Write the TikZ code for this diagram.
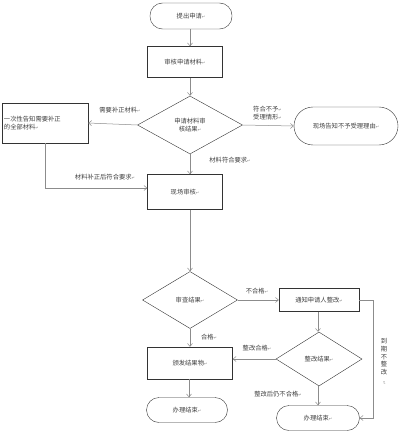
\documentclass[tikz,border=0pt]{standalone}
\usepackage{fontspec}
\setmainfont{Noto Sans CJK SC}
\newfontfamily\symfont{DejaVu Sans}
\usepackage{tikz}
\usetikzlibrary{shapes.geometric,arrows.meta}
\newcommand{\ret}{{\symfont\fontsize{4}{4}\selectfont\textcolor{gray}{↵}}}

\begin{document}
\begin{tikzpicture}[x=1pt,y=-1pt,
  every node/.style={font=\fontsize{6.3}{8.5}\selectfont,text=black!75},
  box/.style={draw=black!80,rectangle,minimum width=75pt,minimum height=31pt,inner sep=1pt},
  term/.style={draw=black!80,rectangle,rounded corners=12.5pt,minimum width=82pt,minimum height=26pt},
  dec/.style={draw=black!80,diamond,inner sep=0pt},
  lbl/.style={inner sep=1pt},
  line/.style={draw=black!45,line width=0.5pt},
  arr/.style={line,-{Straight Barb[length=3pt,width=5pt]}}]
\useasboundingbox (0,0) rectangle (400,433);
% top part
\node[term] (apply) at (191,16) {提出申请\ret};
\node[box] (check) at (185,62) {审核申请材料\ret};
\node[dec,minimum width=105pt,minimum height=58pt,align=center] (result) at (190,125) {申请材料审\\核结果\ret};
\node[box,minimum width=86pt,minimum height=40pt,align=left,text width=82pt] (notify) at (45,123) {一次性告知需要补正\\的全部材料\ret};
\node[term,minimum width=104pt,minimum height=38pt,rounded corners=19pt] (reject) at (346,126) {现场告知不予受理理由\ret};
\node[box,minimum height=35pt] (site) at (185,192) {现场审核\ret};
\node[lbl] at (120,110) {需要补正材料\ret};
\node[lbl,align=left,anchor=west] at (252,113) {符合不予\ret\\受理情形\ret};
\node[lbl] at (230,160) {材料符合要求\ret};
\node[lbl] at (105,177) {材料补正后符合要求\ret};
\draw[arr] (apply.south -| 190,0) -- (check.north -| 190,0);
\draw[arr] (check.south -| 190,0) -- (result.north);
\draw[arr] (result.west) -- (notify.east);
\draw[arr] (result.east) -- (reject.west);
\draw[arr] (result.south) -- (site.north -| 190,0);
\draw[arr] (notify.south) |- (site.west |- 0,188);
% bottom part
\node[dec,minimum width=95pt,minimum height=57pt] (review) at (190,300) {审查结果\ret};
\node[box,minimum width=80pt,minimum height=23pt] (fix) at (319,300) {通知申请人整改\ret};
\node[dec,minimum width=86pt,minimum height=54pt] (fixres) at (319,359) {整改结果\ret};
\node[box,minimum width=85pt,minimum height=32pt] (issue) at (190,363) {颁发结果物\ret};
\node[term,minimum width=81pt,minimum height=25pt] (endl) at (187,410) {办理结束\ret};
\node[term,minimum width=83pt,minimum height=25pt] (endr) at (318,418) {办理结束\ret};
\coordinate (side) at (373,300);
\node[lbl] at (257,291) {不合格\ret};
\node[lbl] at (209,337) {合格\ret};
\node[lbl] at (257,348) {整改合格\ret};
\node[lbl] at (278,394) {整改后仍不合格\ret};
\node[lbl,align=center,font=\fontsize{6.3}{7.6}\selectfont] at (384,362) {到\\期\\不\\整\\改\\\rotatebox{-90}{\ret}};
\draw[arr] (site.south -| 190,0) -- (review.north);
\draw[arr] (review.east) -- (fix.west);
\draw[arr] (review.south) -- (issue.north);
\draw[arr] (fix.south -| 318,0) -- (fixres.north -| 318,0);
\draw[arr] (fixres.west) -- (issue.east |- fixres.west);
\draw[arr] (fixres.south -| 318,0) -- (endr.north);
\draw[arr] (issue.south -| 189,0) -- (endl.north -| 189,0);
\draw[arr] (fix.east) -- (side) |- (endr.east);
\end{tikzpicture}
\end{document}
